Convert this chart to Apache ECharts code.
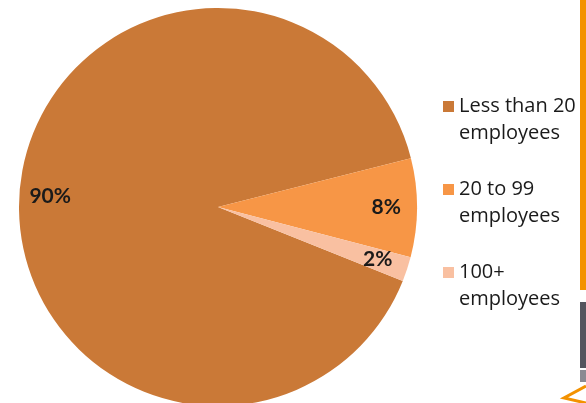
<!DOCTYPE html>
<html>
<head>
<meta charset="utf-8">
<script src="https://cdn.jsdelivr.net/npm/echarts@6/dist/echarts.min.js"></script>
<style>
html,body{margin:0;padding:0;background:#fff;}
#chart{width:586px;height:403px;}
</style>
</head>
<body>
<div id="chart"></div>
<script>
const categories = ['Less than 20 employees', '20 to 99 employees', '100+ employees'];
const legendLabels = ['Less than 20\nemployees', '20 to 99\nemployees', '100+\nemployees'];
const values = [90, 8, 2];
const colors = ['#CA7937', '#F79646', '#F9C0A1'];

const chart = echarts.init(document.getElementById('chart'), null, {renderer: 'canvas'});
const pieData = categories.map((c, i) => ({name: c, value: values[i], itemStyle: {color: colors[i]}}));
const labelMap = {};
categories.forEach((c, i) => labelMap[c] = ' \n' + legendLabels[i]);

const CENTER = [218, 207];
const R = 199;
const START = -21.8;

chart.setOption({
  animation: false,
  backgroundColor: '#ffffff',
  legend: {
    orient: 'vertical',
    left: 443,
    top: 66,
    padding: 0,
    itemGap: 2,
    itemWidth: 11,
    itemHeight: 11,
    itemStyle: {borderWidth: 0},
    icon: 'rect',
    data: categories,
    formatter: n => labelMap[n],
    textStyle: {
      fontFamily: 'Open Sans',
      fontSize: 20,
      color: '#1a1a1a',
      lineHeight: 27
    }
  },
  series: [
    {
      type: 'pie',
      center: CENTER,
      radius: [0, R],
      startAngle: START,
      clockwise: true,
      silent: true,
      label: {show: false},
      labelLine: {show: false},
      data: pieData
    },
    {
      type: 'pie',
      center: CENTER,
      radius: [0, R * 1.66],
      startAngle: START,
      clockwise: true,
      silent: true,
      itemStyle: {color: 'rgba(0,0,0,0)'},
      label: {
        show: true,
        position: 'inside',
        formatter: p => Math.round(p.percent) + '%',
        fontFamily: 'Lato',
        fontWeight: 'bold',
        fontSize: 21,
        color: '#1a1a1a'
      },
      labelLine: {show: false},
      data: categories.map((c, i) => ({name: c, value: values[i]}))
    }
  ],
  graphic: [
    {type: 'rect', shape: {x: 580, y: 0, width: 6, height: 290}, style: {fill: '#F39200'}, silent: true},
    {type: 'rect', shape: {x: 557, y: 290, width: 21, height: 22}, style: {fill: '#ffffff'}, silent: true},
    {type: 'rect', shape: {x: 580, y: 302, width: 6, height: 66}, style: {fill: '#55555E'}, silent: true},
    {type: 'rect', shape: {x: 580, y: 370, width: 6, height: 12}, style: {fill: '#8a8a92'}, silent: true},
    {type: 'polyline', shape: {points: [[586, 386], [564, 398], [586, 403]]}, style: {stroke: '#F39200', lineWidth: 3, fill: null}, silent: true}
  ]
});
</script>
</body>
</html>
